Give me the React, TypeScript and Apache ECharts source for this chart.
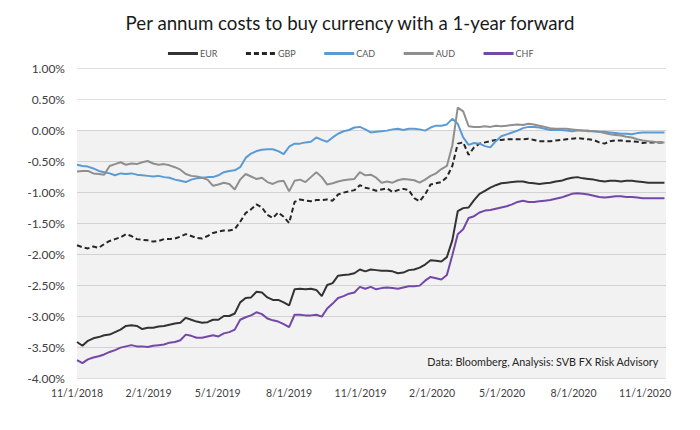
import React, { useEffect, useRef } from "react";
import * as echarts from "echarts";

// Weekly samples (every 7 days) starting 1 Nov 2018
const START_DATE = "2018-11-01";
const END_DATE = "2020-11-28";
const TICK_DATES = [
  "2018-11-01", "2019-02-01", "2019-05-01", "2019-08-01", "2019-11-01",
  "2020-02-01", "2020-05-01", "2020-08-01", "2020-11-01",
];
const Y_TICKS = [1, 0.5, 0, -0.5, -1, -1.5, -2, -2.5, -3, -3.5, -4];

const SERIES_NAMES = ["EUR", "GBP", "CAD", "AUD", "CHF"];

const EUR = [
  -3.42, -3.48, -3.40, -3.36, -3.34, -3.31, -3.30, -3.26, -3.22, -3.16,
  -3.15, -3.16, -3.21, -3.19, -3.19, -3.17, -3.16, -3.14, -3.12, -3.11,
  -3.03, -3.06, -3.09, -3.11, -3.10, -3.06, -3.06, -3.00, -3.00, -2.96,
  -2.78, -2.71, -2.70, -2.61, -2.62, -2.70, -2.74, -2.74, -2.78, -2.83,
  -2.57, -2.56, -2.57, -2.56, -2.58, -2.68, -2.50, -2.47, -2.35, -2.34,
  -2.33, -2.31, -2.25, -2.28, -2.25, -2.26, -2.27, -2.27, -2.28, -2.31,
  -2.30, -2.26, -2.25, -2.22, -2.17, -2.10, -2.11, -2.12, -2.05, -1.78,
  -1.31, -1.26, -1.25, -1.13, -1.03, -0.98, -0.93, -0.89, -0.86, -0.85,
  -0.84, -0.83, -0.83, -0.85, -0.86, -0.87, -0.86, -0.85, -0.83, -0.82,
  -0.79, -0.77, -0.76, -0.78, -0.79, -0.80, -0.82, -0.83, -0.82, -0.82,
  -0.83, -0.82, -0.82, -0.83, -0.84, -0.85, -0.85, -0.85, -0.85,
];

const GBP = [
  -1.86, -1.89, -1.91, -1.88, -1.90, -1.84, -1.79, -1.76, -1.73, -1.68,
  -1.71, -1.76, -1.77, -1.78, -1.80, -1.79, -1.76, -1.76, -1.75, -1.72,
  -1.68, -1.71, -1.74, -1.75, -1.71, -1.66, -1.64, -1.62, -1.62, -1.60,
  -1.48, -1.34, -1.28, -1.20, -1.25, -1.37, -1.42, -1.33, -1.40, -1.50,
  -1.16, -1.12, -1.14, -1.15, -1.13, -1.13, -1.12, -1.14, -1.04, -1.01,
  -0.99, -0.97, -0.89, -0.93, -0.95, -0.98, -0.96, -0.94, -1.00, -0.97,
  -0.95, -0.97, -1.10, -1.15, -1.04, -0.88, -0.86, -0.84, -0.76, -0.58,
  -0.22, -0.20, -0.40, -0.28, -0.22, -0.20, -0.18, -0.16, -0.16, -0.15,
  -0.15, -0.15, -0.15, -0.14, -0.16, -0.18, -0.18, -0.18, -0.17, -0.16,
  -0.15, -0.14, -0.13, -0.14, -0.15, -0.16, -0.20, -0.22, -0.18, -0.17,
  -0.17, -0.18, -0.18, -0.19, -0.21, -0.20, -0.20, -0.20, -0.20,
];

const CAD = [
  -0.56, -0.58, -0.59, -0.62, -0.66, -0.68, -0.70, -0.73, -0.70, -0.71,
  -0.70, -0.72, -0.73, -0.74, -0.75, -0.74, -0.76, -0.77, -0.80, -0.82,
  -0.84, -0.80, -0.78, -0.77, -0.76, -0.76, -0.73, -0.68, -0.66, -0.65,
  -0.60, -0.45, -0.38, -0.34, -0.32, -0.31, -0.31, -0.34, -0.39, -0.27,
  -0.22, -0.22, -0.20, -0.19, -0.12, -0.16, -0.19, -0.12, -0.06, -0.02,
  0.00, 0.04, 0.05, 0.01, -0.04, -0.03, -0.02, -0.01, 0.01, 0.02,
  0.00, 0.02, 0.02, 0.01, -0.01, 0.04, 0.07, 0.07, 0.09, 0.18,
  0.10, -0.12, -0.24, -0.21, -0.22, -0.26, -0.28, -0.18, -0.10, -0.07,
  -0.04, -0.01, 0.03, 0.05, 0.05, 0.04, 0.02, 0.00, 0.00, 0.00,
  -0.01, -0.02, -0.01, -0.01, -0.02, -0.02, -0.03, -0.03, -0.04, -0.05,
  -0.06, -0.06, -0.07, -0.05, -0.04, -0.04, -0.04, -0.04, -0.04,
];

const AUD = [
  -0.67, -0.66, -0.66, -0.70, -0.71, -0.72, -0.58, -0.55, -0.52, -0.56,
  -0.54, -0.55, -0.52, -0.50, -0.54, -0.56, -0.55, -0.57, -0.60, -0.64,
  -0.71, -0.74, -0.75, -0.77, -0.80, -0.90, -0.88, -0.85, -0.87, -0.96,
  -0.80, -0.71, -0.75, -0.79, -0.77, -0.84, -0.87, -0.83, -0.82, -0.99,
  -0.82, -0.80, -0.84, -0.76, -0.68, -0.76, -0.88, -0.86, -0.83, -0.81,
  -0.80, -0.79, -0.68, -0.73, -0.72, -0.77, -0.85, -0.83, -0.85, -0.81,
  -0.79, -0.80, -0.81, -0.85, -0.80, -0.74, -0.70, -0.63, -0.58, -0.25,
  0.36, 0.30, 0.06, 0.05, 0.05, 0.06, 0.05, 0.07, 0.06, 0.07,
  0.08, 0.09, 0.08, 0.10, 0.09, 0.07, 0.05, 0.03, 0.02, 0.02,
  0.02, 0.01, 0.00, -0.01, -0.01, -0.02, -0.03, -0.05, -0.07, -0.08,
  -0.09, -0.11, -0.12, -0.15, -0.17, -0.18, -0.19, -0.20, -0.20,
];

const CHF = [
  -3.71, -3.76, -3.70, -3.67, -3.65, -3.62, -3.58, -3.55, -3.51, -3.49,
  -3.47, -3.49, -3.49, -3.50, -3.48, -3.47, -3.46, -3.43, -3.42, -3.39,
  -3.30, -3.32, -3.35, -3.35, -3.33, -3.31, -3.33, -3.28, -3.26, -3.22,
  -3.06, -3.02, -2.99, -2.94, -2.97, -3.04, -3.07, -3.09, -3.13, -3.18,
  -2.98, -2.98, -2.99, -2.99, -2.98, -3.01, -2.88, -2.80, -2.71, -2.68,
  -2.64, -2.62, -2.53, -2.56, -2.53, -2.57, -2.55, -2.54, -2.55, -2.56,
  -2.54, -2.52, -2.52, -2.51, -2.43, -2.37, -2.39, -2.41, -2.34, -2.02,
  -1.68, -1.60, -1.42, -1.39, -1.33, -1.30, -1.29, -1.27, -1.25, -1.23,
  -1.20, -1.16, -1.14, -1.16, -1.16, -1.15, -1.14, -1.13, -1.11, -1.09,
  -1.06, -1.03, -1.02, -1.03, -1.04, -1.06, -1.08, -1.09, -1.08, -1.07,
  -1.07, -1.08, -1.08, -1.09, -1.10, -1.10, -1.10, -1.10, -1.10,
];

const COLORS: Record<string, string> = {
  EUR: "#333333",
  GBP: "#262626",
  CAD: "#5b9bd5",
  AUD: "#8f8f8f",
  CHF: "#7448a8",
};

const FONT = "Lato, 'Noto Sans', sans-serif";

const DAY_MS = 86400000;

function fmtDate(v: number): string {
  const d = new Date(v);
  return `${d.getUTCMonth() + 1}/${d.getUTCDate()}/${d.getUTCFullYear()}`;
}

export default function App() {
  const ref = useRef<HTMLDivElement>(null);

  useEffect(() => {
    if (!ref.current) return;
    const chart = echarts.init(ref.current, null, { renderer: "svg" });
    const start = Date.parse(START_DATE);
    const dates = EUR.map((_, i) => start + i * 7 * DAY_MS);
    const pair = (vals: number[]) => vals.map((v, i) => [dates[i], v]);
    const valuesByName: Record<string, number[]> = { EUR, GBP, CAD, AUD, CHF };
    const tickValues = TICK_DATES.map((d) => Date.parse(d));

    const series: any[] = SERIES_NAMES.map((name) => ({
      name,
      type: "line",
      data: pair(valuesByName[name]),
      showSymbol: false,
      symbol: "none",
      color: COLORS[name],
      lineStyle: {
        width: 2,
        color: COLORS[name],
        type: name === "GBP" ? [5, 3] : "solid",
      },
      z: 3,
    }));

    series[0].markArea = {
      silent: true,
      itemStyle: { color: "rgba(0,0,0,0.05)" },
      data: [[{ yAxis: 0 }, { yAxis: -4 }]],
    };

    chart.setOption({
      animation: false,
      textStyle: { fontFamily: FONT },
      title: [
        {
          text: "Per annum costs to buy currency with a 1-year forward",
          left: "center",
          top: 8,
          textStyle: { fontFamily: FONT, fontSize: 18.7, fontWeight: "normal", color: "#1a1a1a" },
        },
        {
          text: "Data: Bloomberg, Analysis: SVB FX Risk Advisory",
          right: 36,
          top: 351,
          textStyle: { fontFamily: FONT, fontSize: 10.8, fontWeight: "normal", color: "#262626" },
        },
      ],
      legend: {
        top: 44,
        left: "center",
        itemWidth: 30,
        itemHeight: 4,
        itemGap: 27,
        data: SERIES_NAMES,
        lineStyle: { width: 3 },
        itemStyle: { opacity: 0 },
        textStyle: { fontFamily: FONT, fontSize: 9, color: "#595959", padding: [0, 0, 0, -3] },
      },
      grid: { left: 77, right: 34, top: 68, bottom: 52, containLabel: false },
      xAxis: {
        type: "value",
        min: start,
        max: Date.parse(END_DATE),
        axisLine: { show: false },
        axisTick: { show: false },
        splitLine: { show: false },
        axisLabel: {
          customValues: tickValues,
          formatter: (v: number) => fmtDate(v),
          fontFamily: FONT,
          fontSize: 10.5,
          color: "#404040",
          margin: 9,
          showMinLabel: true,
          showMaxLabel: true,
        },
      },
      yAxis: {
        type: "value",
        min: Y_TICKS[Y_TICKS.length - 1],
        max: Y_TICKS[0],
        interval: 0.5,
        axisLine: { show: false },
        axisTick: { show: false },
        splitLine: { lineStyle: { color: "#dedede", width: 1 } },
        axisLabel: {
          formatter: (v: number) => `${v.toFixed(2)}%`,
          fontFamily: FONT,
          fontSize: 12,
          color: "#404040",
          margin: 12,
        },
      },
      series,
    });
    return () => chart.dispose();
  }, []);

  return (
    <div
      ref={ref}
      style={{ position: "fixed", left: 0, top: 0, width: 700, height: 430, background: "#ffffff" }}
    />
  );
}
